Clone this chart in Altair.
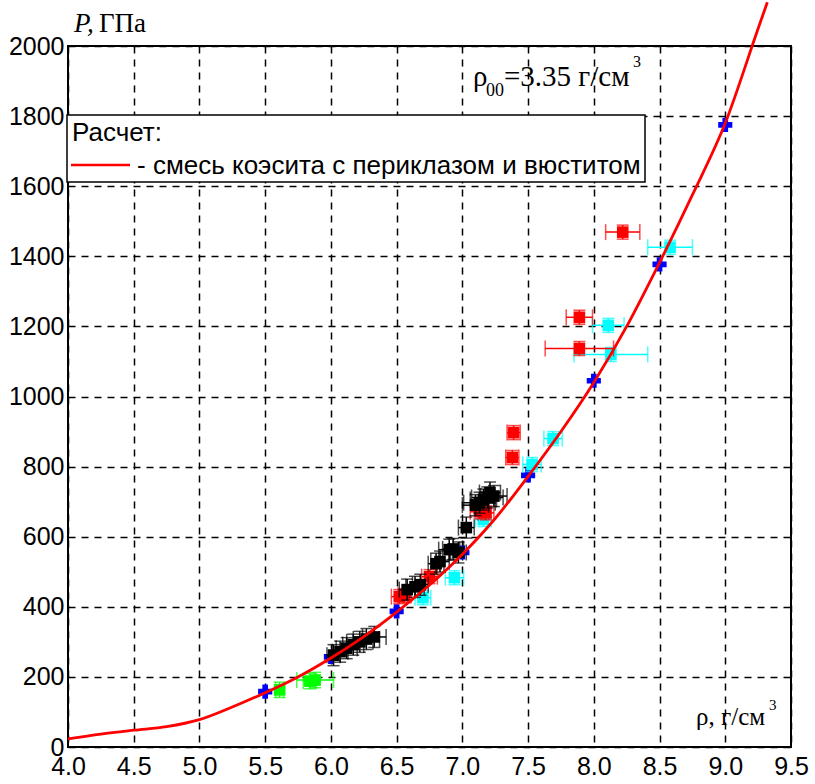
import altair as alt
import pandas as pd

# Calculated Hugoniot curve: density (g/cm3) vs pressure (GPa)
curve_rho = [4.0, 4.25, 4.5, 4.75, 5.0, 5.25, 5.5, 5.75, 6.0, 6.25, 6.5, 6.75,
             7.0, 7.25, 7.5, 7.75, 8.0, 8.25, 8.5, 8.75, 9.0, 9.25, 9.32]
curve_p = [23, 37, 48, 58, 78, 114, 155, 200, 254, 315, 385, 462,
           550, 652, 772, 900, 1040, 1200, 1382, 1575, 1780, 2050, 2125]

# Model points on the curve
model_rho = [5.5, 6.0, 6.5, 7.0, 7.5, 8.0, 8.5, 9.0]
model_p = [158, 257, 387, 555, 775, 1045, 1377, 1775]

# Experimental series: density, pressure, density error
black_rho = [6.02, 6.07, 6.12, 6.17, 6.22, 6.27, 6.33, 6.58, 6.64, 6.68, 6.80, 6.83,
             6.90, 6.93, 6.97, 7.03, 7.10, 7.13, 7.16, 7.19, 7.21, 7.24]
black_p = [262, 272, 282, 292, 300, 308, 314, 449, 457, 463, 523, 529,
           563, 565, 555, 626, 690, 697, 706, 712, 726, 716]
black_err = [0.05, 0.06, 0.08, 0.08, 0.10, 0.10, 0.09, 0.06, 0.07, 0.06, 0.06, 0.07,
             0.08, 0.08, 0.06, 0.06, 0.10, 0.12, 0.10, 0.12, 0.08, 0.10]

red_rho = [6.52, 6.56, 6.75, 7.13, 7.18, 7.38, 7.39, 7.89, 7.89, 8.22]
red_p = [429, 432, 486, 671, 668, 826, 897, 1137, 1226, 1469]
red_err = [0.06, 0.05, 0.06, 0.07, 0.06, 0.05, 0.05, 0.26, 0.10, 0.13]

cyan_rho = [6.70, 6.94, 7.16, 7.53, 7.69, 8.11, 8.13, 8.58]
cyan_p = [426, 483, 649, 806, 880, 1203, 1120, 1426]
cyan_err = [0.06, 0.07, 0.06, 0.07, 0.07, 0.12, 0.28, 0.17]

green_rho = [5.61, 5.84, 5.88]
green_p = [163, 188, 191]
green_err = [0.03, 0.05, 0.14]

x_ticks = [4.0, 4.5, 5.0, 5.5, 6.0, 6.5, 7.0, 7.5, 8.0, 8.5, 9.0, 9.5]
y_ticks = [0, 200, 400, 600, 800, 1000, 1200, 1400, 1600, 1800, 2000]

SANS = "Liberation Sans Narrow, Arial Narrow, Liberation Sans, Arial, sans-serif"
SERIF = "Liberation Serif, Times New Roman, serif"

xs = alt.Scale(domain=[4.0, 9.5], nice=False, zero=False)
ys = alt.Scale(domain=[0, 2000], nice=False)

x_axis = alt.Axis(values=x_ticks, format=".1f", title=None, grid=True, ticks=False,
                  domain=False, labelFontSize=25, labelFont=SANS, labelColor="black",
                  labelPadding=7, gridDash=[7, 6], gridColor="black", gridWidth=1.5,
                  gridOpacity=1, labelFlush=False)
y_axis = alt.Axis(values=y_ticks, format="d", title=None, grid=True, ticks=False,
                  domain=False, labelFontSize=25, labelFont=SANS, labelColor="black",
                  labelPadding=4, gridDash=[7, 6], gridColor="black", gridWidth=1.5,
                  gridOpacity=1, labelFlush=False)

base_curve = alt.Chart(pd.DataFrame({"rho": curve_rho, "P": curve_p}))

grid = base_curve.mark_point(opacity=0).encode(
    x=alt.X("rho:Q", scale=xs, axis=x_axis),
    y=alt.Y("P:Q", scale=ys, axis=y_axis),
)

curve = base_curve.mark_line(color="#ff0000", strokeWidth=2.8, clip=False,
                             interpolate="monotone").encode(
    x=alt.X("rho:Q", scale=xs), y=alt.Y("P:Q", scale=ys)
)


def series_layers(rho, p, err, color, p_err):
    df = pd.DataFrame({"rho": rho, "P": p, "err": err})
    df["lo"] = df["rho"] - df["err"]
    df["hi"] = df["rho"] + df["err"]
    df["plo"] = df["P"] - p_err
    df["phi"] = df["P"] + p_err
    b = alt.Chart(df)
    hbar = b.mark_rule(color=color, strokeWidth=1.5).encode(
        x=alt.X("lo:Q", scale=xs), x2="hi:Q", y=alt.Y("P:Q", scale=ys))
    vbar = b.mark_rule(color=color, strokeWidth=1.5).encode(
        x=alt.X("rho:Q", scale=xs), y=alt.Y("plo:Q", scale=ys), y2="phi:Q")
    cap_l = b.mark_tick(color=color, orient="vertical", size=16, thickness=1.5).encode(
        x=alt.X("lo:Q", scale=xs), y=alt.Y("P:Q", scale=ys))
    cap_r = b.mark_tick(color=color, orient="vertical", size=16, thickness=1.5).encode(
        x=alt.X("hi:Q", scale=xs), y=alt.Y("P:Q", scale=ys))
    cap_b = b.mark_tick(color=color, orient="horizontal", size=12, thickness=1.5).encode(
        x=alt.X("rho:Q", scale=xs), y=alt.Y("plo:Q", scale=ys))
    cap_t = b.mark_tick(color=color, orient="horizontal", size=12, thickness=1.5).encode(
        x=alt.X("rho:Q", scale=xs), y=alt.Y("phi:Q", scale=ys))
    sq = b.mark_square(color=color, size=135, opacity=1).encode(
        x=alt.X("rho:Q", scale=xs), y=alt.Y("P:Q", scale=ys))
    return [hbar, vbar, cap_l, cap_r, cap_b, cap_t, sq]


model = alt.Chart(pd.DataFrame({"rho": model_rho, "P": model_p})).mark_point(
    shape="cross", filled=True, color="#0000ff", size=200, opacity=1
).encode(x=alt.X("rho:Q", scale=xs), y=alt.Y("P:Q", scale=ys))

layers = [grid, model]
layers += series_layers(cyan_rho, cyan_p, cyan_err, "#00ffff", 20)
layers += series_layers(red_rho, red_p, red_err, "#ff0000", 20)
layers += series_layers(black_rho, black_p, black_err, "#000000", 30)
layers += series_layers(green_rho, green_p, green_err, "#00ff00", 22)
layers.append(curve)

one = alt.Chart(pd.DataFrame({"k": [0]}))


def label(text, x, y, size, font=SERIF, style="normal", align="left"):
    return one.mark_text(text=text, font=font, fontSize=size, fontStyle=style,
                         align=align, baseline="alphabetic", color="black").encode(
        x=alt.value(x), y=alt.value(y))


# Legend box
legend_box = one.mark_rect(fill="white", stroke="black", strokeWidth=1.5).encode(
    x=alt.value(-1), x2=alt.value(577), y=alt.value(69), y2=alt.value(136))
legend_line = one.mark_rule(color="#ff0000", strokeWidth=2.5).encode(
    x=alt.value(3), x2=alt.value(62), y=alt.value(119))

texts = [
    legend_box,
    legend_line,
    label("Расчет:", 4, 95, 26, font=SANS),
    label("-  смесь коэсита с  периклазом и вюститом", 69, 128, 26, font=SANS),
    # density annotation
    label("ρ", 405, 40, 29),
    label("00", 418, 50, 18),
    label("=3.35 г/см", 436, 40, 29),
    label("3", 565, 21, 16),
    # axis titles
    label("P,", 6, -14, 27, style="italic"),
    label("ГПа", 31, -14, 27),
    label("ρ, г/см", 628, 679, 25),
    label("3", 701, 664, 15),
]

chart = alt.layer(*layers, *texts).properties(
    width=723, height=701,
    autosize=alt.AutoSizeParams(type="none"),
    padding={"left": 68, "top": 46, "right": 24, "bottom": 37},
).configure_view(stroke="black", strokeWidth=2)

chart.save("out.html", embed_options={"renderer": "svg", "actions": False})
